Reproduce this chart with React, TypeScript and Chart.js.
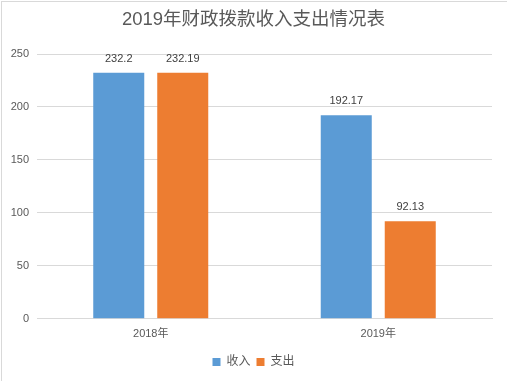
import React, { useEffect, useRef } from "react";
import { Chart, registerables } from "chart.js";

Chart.register(...registerables);

const titleText = "2019年财政拨款收入支出情况表";
const categories = ["2018年", "2019年"];
const seriesNames = ["收入", "支出"];
const incomeValues = [232.2, 192.17];
const expenseValues = [232.19, 92.13];
const seriesColors = ["#5B9BD5", "#ED7D31"];
const yMin = 0;
const yMax = 250;
const yStep = 50;

const FONT = "'Liberation Sans', 'Noto Sans CJK SC', sans-serif";

const valueLabels = {
  id: "valueLabels",
  afterDatasetsDraw(chart: any) {
    const ctx = chart.ctx;
    ctx.save();
    ctx.font = `11px ${FONT}`;
    ctx.fillStyle = "#404040";
    ctx.textAlign = "center";
    ctx.textBaseline = "alphabetic";
    chart.data.datasets.forEach((ds: any, i: number) => {
      const meta = chart.getDatasetMeta(i);
      meta.data.forEach((el: any, j: number) => {
        ctx.fillText(String(ds.data[j]), el.x, el.y - 11);
      });
    });
    ctx.restore();
  },
};

export default function App() {
  const ref = useRef<HTMLCanvasElement | null>(null);
  useEffect(() => {
    document.body.style.margin = "0";
    const chart = new Chart(ref.current as HTMLCanvasElement, {
      type: "bar",
      data: {
        labels: categories,
        datasets: [
          { label: seriesNames[0], data: incomeValues, backgroundColor: seriesColors[0], yAxisID: "y" },
          { label: seriesNames[1], data: expenseValues, backgroundColor: seriesColors[1], yAxisID: "y" },
        ],
      },
      options: {
        responsive: false,
        animation: false,
        layout: { padding: { left: 0, right: 0, top: 0, bottom: 3 } },
        datasets: { bar: { categoryPercentage: 0.5626, barPercentage: 0.797 } },
        scales: {
          y: {
            min: yMin,
            max: yMax,
            ticks: { stepSize: yStep, color: "#595959", font: { family: FONT, size: 11 }, padding: 8 },
            grid: { color: "#d9d9d9", drawTicks: false },
            border: { display: false },
            afterFit: (s: any) => { s.width = 37; },
          },
          yRight: {
            position: "right",
            min: yMin,
            max: yMax,
            ticks: { display: false },
            grid: { display: false, drawTicks: false },
            border: { display: false },
            afterFit: (s: any) => { s.width = 15; },
          },
          x: {
            ticks: { color: "#595959", font: { family: FONT, size: 11 }, padding: 9 },
            grid: { display: false, drawTicks: false },
            border: { color: "#d9d9d9" },
          },
        },
        plugins: {
          title: {
            display: true,
            text: titleText,
            color: "#595959",
            font: { family: FONT, size: 18.5, weight: "normal" },
            padding: { top: 9, bottom: 22.8 },
          },
          legend: {
            position: "bottom",
            labels: {
              color: "#595959",
              font: { family: FONT, size: 12 },
              boxWidth: 8,
              boxHeight: 8,
              padding: 6,
            },
          },
          tooltip: { enabled: false },
        },
      },
      plugins: [valueLabels],
    });
    return () => chart.destroy();
  }, []);
  return (
    <div style={{ position: "fixed", left: 0, top: 0, width: 507, height: 381, background: "#fff" }}>
      <div
        style={{
          position: "absolute",
          left: 1,
          top: 1,
          width: 506,
          height: 380,
          borderLeft: "1px solid #d9d9d9",
          borderTop: "1px solid #d9d9d9",
          boxSizing: "border-box",
        }}
      />
      <canvas ref={ref} width={507} height={381} style={{ position: "absolute", left: 0, top: 0 }} />
    </div>
  );
}
